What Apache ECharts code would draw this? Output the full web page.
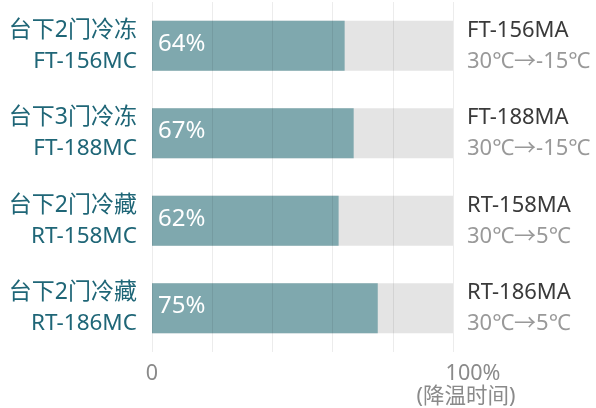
<!DOCTYPE html>
<html>
<head>
<meta charset="utf-8">
<script src="https://cdn.jsdelivr.net/npm/echarts@6/dist/echarts.min.js"></script>
<style>
  html, body { margin: 0; padding: 0; background: #fff; }
  #chart { width: 596px; height: 408px; }
</style>
</head>
<body>
<div id="chart"></div>
<script>
// 数据
var productNames = ["台下2门冷冻", "台下3门冷冻", "台下2门冷藏", "台下2门冷藏"];
var ourModels = ["FT-156MC", "FT-188MC", "RT-158MC", "RT-186MC"];
var rivalModels = ["FT-156MA", "FT-188MA", "RT-158MA", "RT-186MA"];
var tempRanges = ["30℃→-15℃", "30℃→-15℃", "30℃→5℃", "30℃→5℃"];
var percentValues = [64, 67, 62, 75];
var fullValues = [100, 100, 100, 100];
var xTickLabels = { 0: "{z|0}", 100: "{h|100%}\n{s|(降温时间)}" };

var font = "'Noto Sans', 'Noto Sans CJK SC', sans-serif";
var myChart = echarts.init(document.getElementById("chart"));

var option = {
  animation: false,
  textStyle: { fontFamily: font },
  grid: {
    left: 152,
    right: 143,
    top: 2,
    bottom: 56,
    containLabel: false,
  },
  xAxis: {
    type: "value",
    min: 0,
    max: 100,
    interval: 20,
    z: 5,
    axisLine: { show: false },
    axisTick: { show: false },
    splitLine: {
      show: true,
      lineStyle: { color: "rgba(0,0,0,0.075)", width: 1 },
    },
    axisLabel: {
      margin: 10,
      align: "center",
      formatter: function (v) {
        return xTickLabels[v] || "";
      },
      rich: {
        z: { fontFamily: font, fontSize: 21.5, lineHeight: 23, color: "#8a8a8a" },
        h: { fontFamily: font, fontSize: 21.5, lineHeight: 23, color: "#8a8a8a", align: "center", padding: [0, 0, 0, 40] },
        s: { fontFamily: font, fontSize: 21.5, lineHeight: 23, color: "#8a8a8a", align: "center", padding: [0, 0, 0, 26] },
      },
    },
  },
  yAxis: [
    {
      type: "category",
      inverse: true,
      data: productNames,
      axisLine: { show: false },
      axisTick: { show: false },
      axisLabel: {
        margin: 15,
        align: "right",
        formatter: function (v, i) {
          return "{a|" + v + "}\n{b|" + ourModels[i] + "}";
        },
        rich: {
          a: { fontFamily: font, fontSize: 23, lineHeight: 31, color: "#1f6677", align: "right" },
          b: { fontFamily: font, fontSize: 22.5, lineHeight: 31, color: "#1f6677", align: "right" },
        },
      },
    },
    {
      type: "category",
      inverse: true,
      position: "right",
      data: rivalModels,
      axisLine: { show: false },
      axisTick: { show: false },
      axisLabel: {
        margin: 14,
        align: "left",
        formatter: function (v, i) {
          return "{m|" + v + "}\n{t|" + tempRanges[i] + "}";
        },
        rich: {
          m: { fontFamily: font, fontSize: 22, lineHeight: 31, color: "#3a3a3a", align: "left" },
          t: { fontFamily: font, fontSize: 22, lineHeight: 31, color: "#999999", align: "left" },
        },
      },
    },
  ],
  series: [
    {
      type: "bar",
      data: fullValues,
      barWidth: 50,
      barGap: "-100%",
      silent: true,
      itemStyle: { color: "#e4e4e4" },
      z: 1,
    },
    {
      type: "bar",
      data: percentValues,
      barWidth: 50,
      itemStyle: { color: "#7fa8ae" },
      z: 2,
      label: {
        show: true,
        position: "insideLeft",
        offset: [1, -2],
        formatter: "{c}%",
        fontFamily: font,
        fontSize: 24,
        color: "#ffffff",
      },
    },
  ],
};
myChart.setOption(option);
</script>
</body>
</html>
